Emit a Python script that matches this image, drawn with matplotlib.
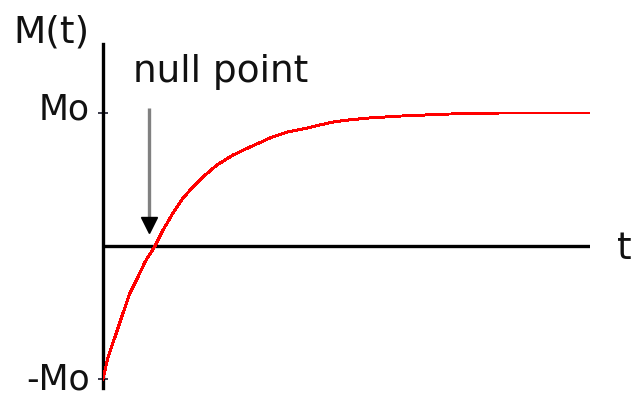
import matplotlib
matplotlib.use("Agg")
import matplotlib.pyplot as plt
from matplotlib.transforms import ScaledTranslation

# inversion recovery curve, values read as (t, M/M0)
t_vals = [0, 1, 5, 12, 20, 27, 35, 42, 52, 60, 70, 80, 90, 100, 114, 130, 147, 167,
          184, 204, 217, 230, 245, 265, 297, 344, 397, 487]
m_vals = [-1.0, -0.97, -0.835, -0.684, -0.504, -0.353, -0.233, -0.120, 0.0, 0.120,
          0.248, 0.361, 0.444, 0.519, 0.609, 0.684, 0.744, 0.812, 0.857, 0.887, 0.910,
          0.932, 0.947, 0.962, 0.977, 0.992, 1.0, 1.0]
tick_vals = [-1, 1]
tick_labels = ["-Mo", "Mo"]
null_t = 46

W, H = 635, 396
fig = plt.figure(figsize=(W / 100, H / 100), dpi=100)

# axes box in pixels: x 103..590, y 44..388 (from top)
ax = fig.add_axes([103 / W, 1 - 388 / H, (590 - 103) / W, (388 - 44) / H])
ax.set_xlim(0, 487)
ax.set_ylim((246 - 388) / 133, (246 - 44) / 133)

for side in ["top", "right", "bottom"]:
    ax.spines[side].set_visible(False)
ax.spines["left"].set_linewidth(2.4)
ax.spines["left"].set_color("black")
ax.set_xticks([])
ax.set_yticks(tick_vals, tick_labels)
ax.tick_params(axis="y", direction="inout", length=7, width=1.2, colors="#1a1a2e",
               labelsize=25, pad=6)
# nudge the labels up a little off their ticks
for lab, dy in zip(ax.get_yticklabels(), [3, 7]):
    lab.set_color("#111111")
    lab.set_transform(lab.get_transform() + ScaledTranslation(0, dy / 100, fig.dpi_scale_trans))

# time axis through zero
ax.axhline(0, color="black", lw=2.4, zorder=2)

ax.plot(t_vals, m_vals, color="#ff0000", lw=1.4, antialiased=False, zorder=3)

# arrow pointing to the zero crossing
ax.plot([null_t, null_t], [(246 - 108) / 133, (246 - 222) / 133], color="#808080",
        lw=2.4, solid_capstyle="butt", zorder=4)
ax.plot([null_t], [(246 - 225) / 133], marker="v", color="black", markersize=12,
        linestyle="none", zorder=4)

fig.text(13 / W, 1 - 43 / H, "M(t)", fontsize=27, color="#111111",
         ha="left", va="baseline")
fig.text(133 / W, 1 - 82 / H, "null point", fontsize=27, color="#111111",
         ha="left", va="baseline")
fig.text(617 / W, 1 - 259 / H, "t", fontsize=27, color="#111111",
         ha="left", va="baseline")

fig.savefig("out.png", dpi=100)
